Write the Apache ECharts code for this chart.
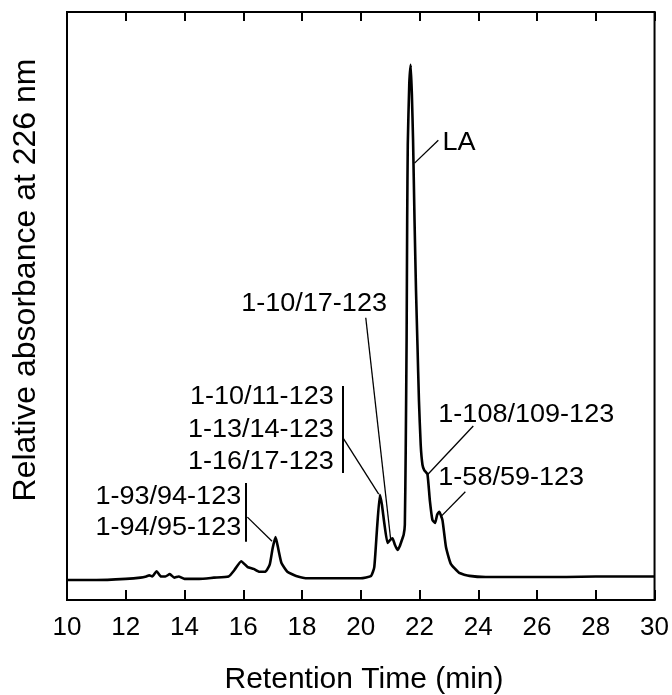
<!DOCTYPE html>
<html>
<head>
<meta charset="utf-8">
<script src="https://cdn.jsdelivr.net/npm/echarts@6/dist/echarts.min.js"></script>
<style>
  html, body { margin: 0; padding: 0; background: #fff; }
  #chart { width: 672px; height: 695px; }
</style>
</head>
<body>
<div id="chart"></div>
<script>
// retention time (min) and relative absorbance
const time = [
  10.0, 11.0, 12.0, 12.5, 12.7, 12.8, 12.9, 13.05, 13.2, 13.35, 13.5, 13.65, 13.8, 14.0, 14.5,
  15.0, 15.5, 15.7, 15.93, 16.15, 16.35, 16.55, 16.75, 16.9, 17.0, 17.1, 17.2, 17.3, 17.5, 17.8,
  18.2, 19.0, 20.0, 20.35, 20.46, 20.55, 20.65, 20.72, 20.8, 20.91, 21.0, 21.08, 21.16, 21.25,
  21.33, 21.4, 21.46, 21.5, 21.53, 21.56, 21.58, 21.6, 21.65, 21.7, 21.74, 21.78, 21.83, 21.88,
  21.93, 21.98, 22.04, 22.1, 22.16, 22.27, 22.35, 22.44, 22.53, 22.6, 22.67, 22.78, 22.9, 23.06,
  23.35, 23.7, 24.25, 25.0, 26.0, 27.0, 28.0, 29.0, 30.0
];
const absorbance = [
  0.034, 0.034, 0.036, 0.038, 0.040, 0.042, 0.040, 0.049, 0.040, 0.040, 0.044, 0.038, 0.040, 0.036, 0.036,
  0.038, 0.040, 0.051, 0.066, 0.056, 0.053, 0.048, 0.048, 0.060, 0.088, 0.107, 0.085, 0.063, 0.048, 0.041,
  0.037, 0.037, 0.037, 0.041, 0.056, 0.119, 0.179, 0.162, 0.131, 0.097, 0.102, 0.105, 0.094, 0.085,
  0.092, 0.102, 0.111, 0.128, 0.255, 0.442, 0.646, 0.774, 0.876, 0.910, 0.859, 0.782, 0.646, 0.527,
  0.434, 0.340, 0.264, 0.230, 0.221, 0.214, 0.170, 0.136, 0.131, 0.145, 0.150, 0.136, 0.090, 0.062,
  0.046, 0.041, 0.039, 0.039, 0.039, 0.039, 0.040, 0.040, 0.040
];
const xTicks = [10, 12, 14, 16, 18, 20, 22, 24, 26, 28, 30];

const FONT = '"Liberation Sans", Arial, sans-serif';
const trace = time.map((t, i) => [t, absorbance[i]]);

// peak labels: text anchor in data coords
const labels = [
  { text: 'LA', at: [22.78, 0.777], align: 'left' },
  { text: '1-10/17-123', at: [18.41, 0.503], align: 'center' },
  { text: '1-10/11-123', at: [19.08, 0.345], align: 'right' },
  { text: '1-13/14-123', at: [19.08, 0.289], align: 'right' },
  { text: '1-16/17-123', at: [19.08, 0.235], align: 'right' },
  { text: '1-93/94-123', at: [15.93, 0.175], align: 'right' },
  { text: '1-94/95-123', at: [15.93, 0.122], align: 'right' },
  { text: '1-108/109-123', at: [22.64, 0.315], align: 'left' },
  { text: '1-58/59-123', at: [22.64, 0.207], align: 'left' }
];
const leaders = [
  [[21.83, 0.743], [22.64, 0.782]],
  [[20.17, 0.480], [21.02, 0.102]],
  [[19.39, 0.276], [20.61, 0.180]],
  [[16.14, 0.141], [16.98, 0.100]],
  [[23.83, 0.296], [22.27, 0.213]],
  [[23.56, 0.184], [22.71, 0.141]]
];
const brackets = [
  [[19.39, 0.364], [19.39, 0.216]],
  [[16.10, 0.199], [16.10, 0.099]]
];

const chart = echarts.init(document.getElementById('chart'));
const option = {
  animation: false,
  backgroundColor: '#fff',
  grid: {
    left: 67, right: 15, top: 12, bottom: 95,
    show: true, borderColor: '#000', borderWidth: 2
  },
  xAxis: [
    {
      type: 'value', min: 10, max: 30, interval: 2, position: 'bottom',
      axisLine: { show: true, lineStyle: { color: '#000', width: 2 } },
      axisTick: { show: true, inside: true, length: 10, lineStyle: { color: '#000', width: 2 } },
      axisLabel: { margin: 15, fontFamily: FONT, fontSize: 26, color: '#000',
        formatter: v => xTicks.includes(v) ? String(v) : '' },
      splitLine: { show: false }
    },
    {
      type: 'value', min: 10, max: 30, interval: 2, position: 'top',
      axisLine: { show: true, lineStyle: { color: '#000', width: 2 } },
      axisTick: { show: true, inside: true, length: 9, lineStyle: { color: '#000', width: 2 } },
      axisLabel: { show: false },
      splitLine: { show: false }
    }
  ],
  yAxis: {
    type: 'value', min: 0, max: 1,
    axisLine: { show: true, lineStyle: { color: '#000', width: 2 } },
    axisTick: { show: false },
    axisLabel: { show: false },
    splitLine: { show: false }
  },
  series: [
    {
      type: 'line',
      data: trace,
      showSymbol: false,
      smooth: 0.15,
      lineStyle: { color: '#000', width: 2.6 },
      silent: true,
      markLine: {
        silent: true,
        symbol: 'none',
        label: { show: false },
        lineStyle: { color: '#000', type: 'solid', width: 1.3 },
        data: leaders.map(l => [{ coord: l[0] }, { coord: l[1] }])
          .concat(brackets.map(b => [
            { coord: b[0], lineStyle: { width: 2 } },
            { coord: b[1], lineStyle: { width: 2 } }
          ]))
      }
    }
  ]
};
chart.setOption(option);

const texts = labels.map(l => {
  const p = chart.convertToPixel({ xAxisIndex: 0, yAxisIndex: 0 }, l.at);
  return {
    type: 'text', x: p[0], y: p[1], scaleX: 1.04, silent: true,
    style: { text: l.text, fontFamily: FONT, fontSize: 26, fill: '#000',
      align: l.align, verticalAlign: 'middle' }
  };
});
texts.push({
  type: 'text', x: 26, y: 280, rotation: Math.PI / 2, silent: true,
  style: { text: 'Relative absorbance at 226 nm', fontFamily: FONT, fontSize: 32,
    fill: '#000', align: 'center', verticalAlign: 'middle' }
});
texts.push({
  type: 'text', x: 364, y: 680, silent: true,
  style: { text: 'Retention Time (min)', fontFamily: FONT, fontSize: 30,
    fill: '#000', align: 'center', verticalAlign: 'middle' }
});
chart.setOption({ graphic: texts });
</script>
</body>
</html>
